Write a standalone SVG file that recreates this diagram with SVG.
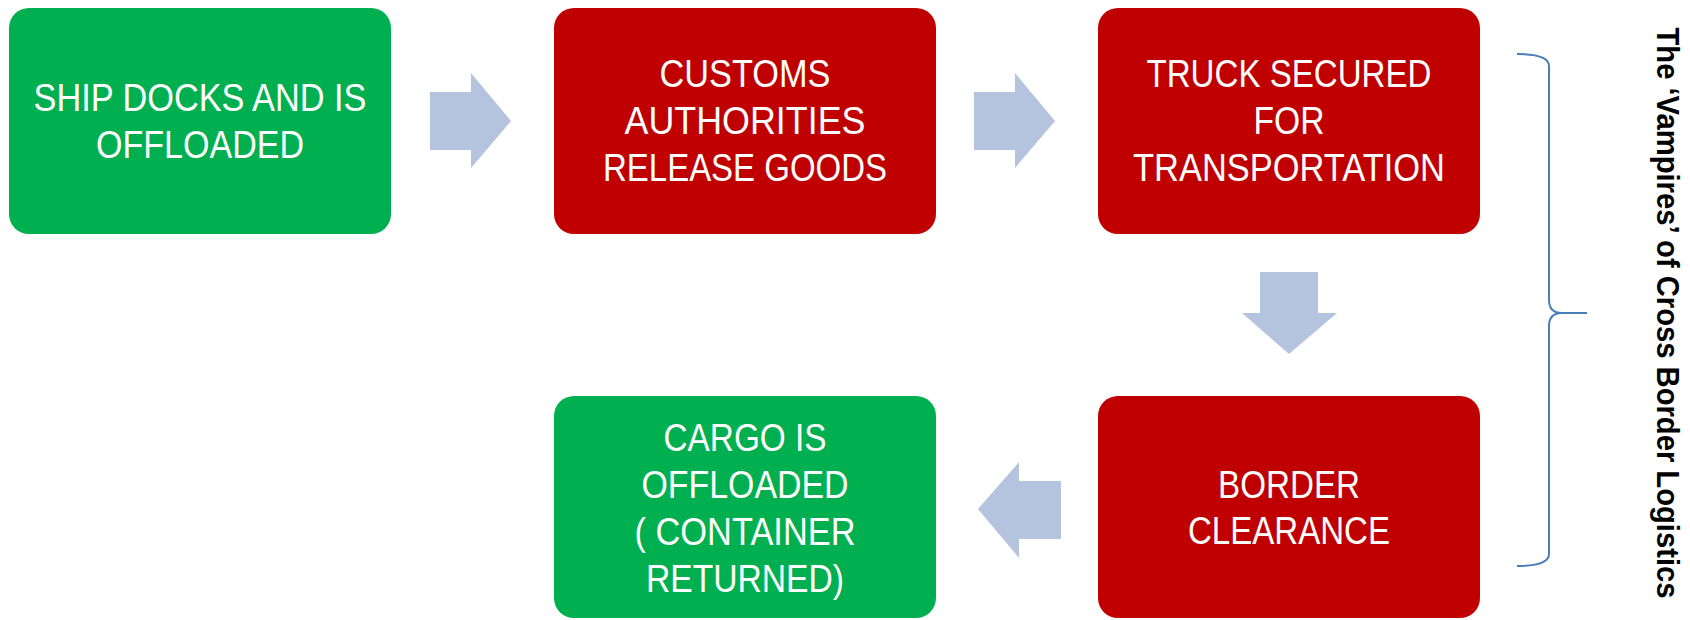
<svg xmlns="http://www.w3.org/2000/svg" width="1690" height="620" viewBox="0 0 1690 620">
<style>
.green{fill:#00B050}
.red{fill:#C00000}
.lbl{font-family:"Liberation Sans",Arial,sans-serif;font-size:39px;fill:#FFFFFF;text-anchor:middle}
.arrow{fill:#B4C3DE}
.side{font-family:"Liberation Sans",Arial,sans-serif;font-size:32px;font-weight:bold;fill:#000000;text-anchor:middle}
</style>
<rect width="1690" height="620" fill="#FFFFFF"/>
<g id="connectors">
<polygon class="arrow" points="430,92 471,92 471,73 511,121 471,168 471,150 430,150"/>
<polygon class="arrow" points="974,92 1015,92 1015,73 1055,121 1015,168 1015,150 974,150"/>
<polygon class="arrow" points="1260,272 1318,272 1318,313 1337,313 1289,354 1242,313 1260,313"/>
<polygon class="arrow" points="1061,481 1019,481 1019,462 978,509 1019,558 1019,539 1061,539"/>
</g>
<g id="node-ship">
<rect class="green" x="9" y="8" width="382" height="226" rx="20"/>
<text class="lbl" x="200" y="111" textLength="333" lengthAdjust="spacingAndGlyphs">SHIP DOCKS AND IS</text>
<text class="lbl" x="200" y="158" textLength="208" lengthAdjust="spacingAndGlyphs">OFFLOADED</text>
</g>
<g id="node-customs">
<rect class="red" x="554" y="8" width="382" height="226" rx="20"/>
<text class="lbl" x="745" y="87" textLength="171" lengthAdjust="spacingAndGlyphs">CUSTOMS</text>
<text class="lbl" x="745" y="134" textLength="241" lengthAdjust="spacingAndGlyphs">AUTHORITIES</text>
<text class="lbl" x="745" y="181" textLength="284" lengthAdjust="spacingAndGlyphs">RELEASE GOODS</text>
</g>
<g id="node-truck">
<rect class="red" x="1098" y="8" width="382" height="226" rx="20"/>
<text class="lbl" x="1289" y="87" textLength="285" lengthAdjust="spacingAndGlyphs">TRUCK SECURED</text>
<text class="lbl" x="1289" y="134" textLength="71" lengthAdjust="spacingAndGlyphs">FOR</text>
<text class="lbl" x="1289" y="181" textLength="312" lengthAdjust="spacingAndGlyphs">TRANSPORTATION</text>
</g>
<g id="node-border">
<rect class="red" x="1098" y="396" width="382" height="222" rx="20"/>
<text class="lbl" x="1289" y="498" textLength="142" lengthAdjust="spacingAndGlyphs">BORDER</text>
<text class="lbl" x="1289" y="544" textLength="202" lengthAdjust="spacingAndGlyphs">CLEARANCE</text>
</g>
<g id="node-cargo">
<rect class="green" x="554" y="396" width="382" height="222" rx="20"/>
<text class="lbl" x="745" y="451" textLength="163" lengthAdjust="spacingAndGlyphs">CARGO IS</text>
<text class="lbl" x="745" y="498" textLength="207" lengthAdjust="spacingAndGlyphs">OFFLOADED</text>
<text class="lbl" x="745" y="545" textLength="221" lengthAdjust="spacingAndGlyphs">( CONTAINER</text>
<text class="lbl" x="745" y="592" textLength="198" lengthAdjust="spacingAndGlyphs">RETURNED)</text>
</g>
<g id="bracket">
<path d="M1517,54 Q1549,54 1549,66 L1549,300 Q1549,313 1562,313 L1587,313 M1562,313 Q1549,313 1549,326 L1549,554 Q1549,566 1517,566" fill="none" stroke="#4A7EBB" stroke-width="2"/>
</g>
<g id="side-label">
<text class="side" transform="translate(1657,313) rotate(90)" textLength="571" lengthAdjust="spacingAndGlyphs">The ‘Vampires’ of Cross Border Logistics</text>
</g>
</svg>
